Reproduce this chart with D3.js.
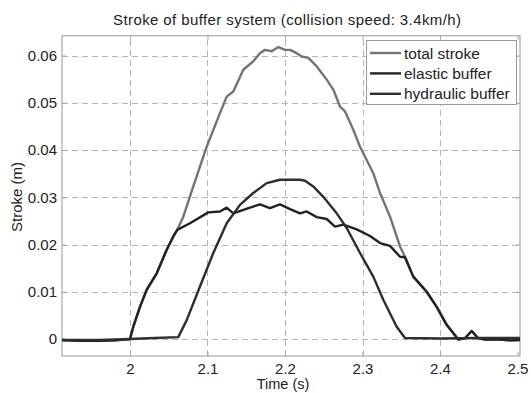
<!DOCTYPE html>
<html>
<head>
<meta charset="utf-8">
<script src="https://cdn.jsdelivr.net/npm/d3@7"></script>
<style>
  body { margin: 0; background: #fff; }
  svg { display: block; font-family: "Liberation Sans", Arial, sans-serif; }
</style>
</head>
<body>
<svg id="chart"></svg>
<script>
// values
let elasticT = [1.9123, 1.9355, 1.9613, 1.9806, 2.000, 2.0043, 2.0129, 2.0215, 2.0345, 2.0474, 2.0559, 2.0610,
  2.0774, 2.1010, 2.1161, 2.1248, 2.1333, 2.1548, 2.1677, 2.1806, 2.1935, 2.2065, 2.2194, 2.2280, 2.2410,
  2.2538, 2.2645, 2.2752, 2.2925, 2.3097, 2.3226, 2.3355, 2.3484, 2.3548, 2.3655, 2.3828, 2.3957, 2.4086,
  2.4236, 2.4323, 2.4409, 2.4490, 2.4580, 2.4774, 2.4900, 2.5032];
let elastic = [-0.0002, -0.0004, -0.0004, -0.0003, 0, 0.0026, 0.0068, 0.0104, 0.0139, 0.0189, 0.0217, 0.0231,
  0.0245, 0.0268, 0.0270, 0.0278, 0.0266, 0.0278, 0.0285, 0.0277, 0.0285, 0.0275, 0.0266, 0.0270, 0.0258,
  0.0254, 0.0238, 0.0242, 0.0232, 0.0218, 0.0203, 0.0197, 0.0174, 0.0173, 0.0132, 0.0100, 0.0068, 0.0030,
  -0.0001, 0.0002, 0.0017, 0.0002, -0.0001, -0.0001, -0.0003, -0.0002];

let hydraulicT = [1.9123, 1.9613, 2.000, 2.0323, 2.0623, 2.0732, 2.0903, 2.1075, 2.1248, 2.1419, 2.1591, 2.1764,
  2.1935, 2.2194, 2.2258, 2.2365, 2.2494, 2.2667, 2.2796, 2.2968, 2.3139, 2.3268, 2.3441, 2.3548, 2.4000,
  2.4516, 2.5032];
let hydraulic = [-0.0002, -0.0002, 0, 0.0002, 0.0004, 0.0040, 0.0111, 0.0182, 0.0245, 0.0284, 0.0309, 0.0330,
  0.0337, 0.0337, 0.0335, 0.0323, 0.0301, 0.0266, 0.0235, 0.0182, 0.0132, 0.0083, 0.0026, 0.0002, 0.0001,
  0.0002, 0.0002];

let totalT = [1.9123, 1.9355, 1.9613, 1.9806, 2.000, 2.0043, 2.0129, 2.0215, 2.0345, 2.0474, 2.0559, 2.0610,
  2.0688, 2.0817, 2.0990, 2.1161, 2.1248, 2.1333, 2.1462, 2.1591, 2.1677, 2.1742, 2.1829, 2.1914, 2.2000,
  2.2065, 2.2151, 2.2215, 2.2301, 2.2410, 2.2538, 2.2623, 2.2710, 2.2774, 2.2881, 2.2968, 2.3054, 2.3139,
  2.3226, 2.3355, 2.3484, 2.3548, 2.3655, 2.3828, 2.3957, 2.4086, 2.4236, 2.4323, 2.4409, 2.4490, 2.4580,
  2.4774, 2.4900, 2.5032];
let total = [-0.0002, -0.0004, -0.0004, -0.0003, 0, 0.0026, 0.0068, 0.0104, 0.0139, 0.0189, 0.0217, 0.0231,
  0.0259, 0.0323, 0.0407, 0.0478, 0.0513, 0.0524, 0.0570, 0.0588, 0.0605, 0.0612, 0.0609, 0.0618, 0.0612,
  0.0612, 0.0605, 0.0598, 0.0595, 0.0577, 0.0549, 0.0528, 0.0492, 0.0482, 0.0443, 0.0407, 0.0379, 0.0351,
  0.0309, 0.0259, 0.0196, 0.0174, 0.0132, 0.0100, 0.0068, 0.0030, -0.0001, 0.0002, 0.0017, 0.0002, -0.0001,
  -0.0001, -0.0003, -0.0002];

let xTicks = [2, 2.1, 2.2, 2.3, 2.4, 2.5];
let yTicks = [0, 0.01, 0.02, 0.03, 0.04, 0.05, 0.06];
let seriesNames = ["total stroke", "elastic buffer", "hydraulic buffer"];
let seriesColors = ["#747474", "#222222", "#2e2e2e"];

let width = 531, height = 393;
let margin = { top: 35.7, right: 11, bottom: 37, left: 62 };

let svg = d3.select("#chart").attr("width", width).attr("height", height);

let xScale = d3.scaleLinear().domain([1.9123, 2.5032]).range([margin.left, width - margin.right]);
let yScale = d3.scaleLinear().domain([-0.0036, 0.0642]).range([height - margin.bottom, margin.top]);

let [x0, x1] = xScale.range();
let [y0, y1] = yScale.range();

// grid
let grid = svg.append("g").attr("stroke", "#b4b4b4").attr("stroke-width", 1).attr("stroke-dasharray", "6,4");
grid.selectAll(".gx").data(xTicks.filter(t => xScale(t) < x1 - 3)).enter().append("line")
  .attr("x1", d => Math.round(xScale(d)) + 0.5).attr("x2", d => Math.round(xScale(d)) + 0.5)
  .attr("y1", y0).attr("y2", y1);
grid.selectAll(".gy").data(yTicks).enter().append("line")
  .attr("y1", d => Math.round(yScale(d)) + 0.5).attr("y2", d => Math.round(yScale(d)) + 0.5)
  .attr("x1", x0).attr("x2", x1);

// axes with inward ticks
let axisB = d3.axisBottom(xScale).tickValues(xTicks).tickSize(-4).tickPadding(7).tickFormat(d3.format("~g"));
let axisL = d3.axisLeft(yScale).tickValues(yTicks).tickSize(-4).tickPadding(5).tickFormat(d3.format("~g"));
let axisT = d3.axisTop(xScale).tickValues(xTicks).tickSize(-4).tickFormat("");
let axisR = d3.axisRight(yScale).tickValues(yTicks).tickSize(-4).tickFormat("");

let gX = svg.append("g").attr("transform", `translate(0,${y0})`).call(axisB);
let gY = svg.append("g").attr("transform", `translate(${x0},0)`).call(axisL);
let gT = svg.append("g").attr("transform", `translate(0,${y1})`).call(axisT);
let gR = svg.append("g").attr("transform", `translate(${x1},0)`).call(axisR);
[gX, gY, gT, gR].forEach(g => {
  g.select(".domain").remove();
  g.selectAll(".tick line").attr("stroke", "#a0a0a0");
  g.selectAll("text").attr("font-size", 15).attr("fill", "#222").attr("font-family", "Liberation Sans, Arial, sans-serif");
});

// frame
svg.append("rect").attr("x", x0).attr("y", y1).attr("width", x1 - x0).attr("height", y0 - y1)
  .attr("fill", "none").attr("stroke", "#a8a8a8").attr("stroke-width", 1.2);

// lines
let line = d3.line().x(d => xScale(d[0])).y(d => yScale(d[1]));
let series = [
  d3.zip(totalT, total),
  d3.zip(elasticT, elastic),
  d3.zip(hydraulicT, hydraulic)
];
svg.append("g").selectAll("path").data(series).enter().append("path")
  .attr("d", line)
  .attr("fill", "none")
  .attr("stroke", (d, i) => seriesColors[i])
  .attr("stroke-width", 2.4)
  .attr("stroke-linejoin", "round");

// legend
let legend = svg.append("g");
legend.append("rect").attr("x", 366.5).attr("y", 40.5).attr("width", 150).attr("height", 64)
  .attr("fill", "#fff").attr("stroke", "#9a9a9a").attr("stroke-width", 1);
let items = legend.selectAll(".item").data(seriesNames).enter().append("g")
  .attr("transform", (d, i) => `translate(370,${53 + i * 20.4})`);
items.append("line").attr("x1", 0).attr("x2", 31).attr("y1", 0).attr("y2", 0)
  .attr("stroke", (d, i) => seriesColors[i]).attr("stroke-width", 2.4);
items.append("text").attr("x", 34).attr("y", 5.5).text(d => d)
  .attr("font-size", 15.5).attr("fill", "#222");

// title and axis labels
svg.append("text").attr("x", 287).attr("y", 25).attr("text-anchor", "middle")
  .attr("font-size", 15).attr("fill", "#222").attr("textLength", 348).attr("lengthAdjust", "spacing")
  .text("Stroke of buffer system (collision speed: 3.4km/h)");
svg.append("text").attr("x", 283).attr("y", 389).attr("text-anchor", "middle")
  .attr("font-size", 14.5).attr("fill", "#222").text("Time (s)");
svg.append("text").attr("transform", "translate(22,197) rotate(-90)").attr("text-anchor", "middle")
  .attr("font-size", 15).attr("fill", "#222").text("Stroke (m)");
</script>
</body>
</html>
